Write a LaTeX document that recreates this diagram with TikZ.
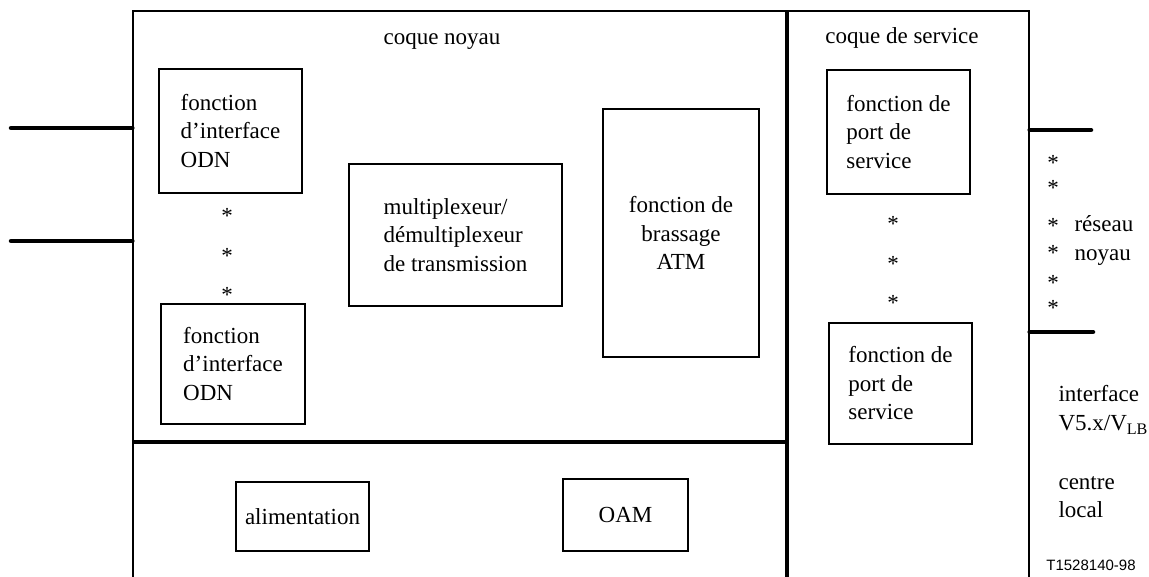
\documentclass[tikz,border=0pt]{standalone}
\usepackage{fontspec}
\setmainfont{Liberation Serif}
\newfontfamily\refsans{Liberation Sans}
\usepackage{tikz}
\usetikzlibrary{positioning}

\begin{document}
\begin{tikzpicture}[x=1pt, y=-1pt,
                      every node/.style = {font=\fontsize{23}{28.5}\selectfont},
                      fbox/.style = {draw, line width=1.2pt, align=left, inner sep=0pt},
                      asterisk/.style = {inner sep=0pt},
                      link/.style = {line width=4.5pt, line cap=round},
                      divider/.style = {line width=4.5pt}]
                      \clip (0,0) rectangle (1149,576);
                      \node[draw, line width=1.3pt, minimum width=896, minimum height=609] (frame) at (581,315.5) {};
                      \draw[divider] (787,11) -- (787,620);
                      \draw[divider] (frame.west |- 0,442) -- (787,442);
                      \node (core) at (442,41) {coque noyau};
                      \node (shell) at (902,38) {coque de service};
                      \node[fbox, minimum width=143, minimum height=124] (odnA) at (230.5,131) {fonction\\d'interface\\ODN};
                      \node[fbox, minimum width=144, minimum height=120] (odnB) at (233,364) {fonction\\d'interface\\ODN};
                      \node[fbox, minimum width=213, minimum height=142] (mux) at (455.5,235) {multiplexeur/\\démultiplexeur\\de transmission};
                      \node[fbox, align=center, minimum width=156, minimum height=248] (atm) at (681,233) {fonction de\\brassage\\ATM};
                      \node[fbox, minimum width=143, minimum height=124] (portA) at (898.5,132) {fonction de\\port de\\service};
                      \node[fbox, minimum width=143, minimum height=121] (portB) at (900.5,383.5) {fonction de\\port de\\service};
                      \node[fbox, minimum width=133, minimum height=69] (alim) at (302.5,516.5) {alimentation};
                      \node[fbox, minimum width=125, minimum height=72] (oam) at (625.5,515) {OAM};
                      \foreach \y [count=\i] in {216,256,295}
                        \node[asterisk] (odnstar\i) at (227,\y) {*};
                      \foreach \y [count=\i] in {224,264,303}
                        \node[asterisk] (portstar\i) at (893,\y) {*};
                      \foreach \y [count=\i] in {163,188,226,253,283,308}
                        \node[asterisk] (netstar\i) at (1053,\y) {*};
                      \node[align=left, anchor=west] (network) at (1071,240.5) {réseau\\noyau};
                      \node[align=left, anchor=west] (iface) at (1055,410) {interface\\V5.x/V\textsubscript{LB}};
                      \node[align=left, anchor=west] (exchange) at (1055,497) {centre\\local};
                      \node[font=\refsans\fontsize{15}{18}\selectfont] (ref) at (1091,565) {T1528140-98};
                      \coordinate (odnlineA) at (11,128);
                      \coordinate (odnlineB) at (11,241);
                      \coordinate (netlineA) at (1091,130);
                      \coordinate (netlineB) at (1093,332);
                      \draw[link] (odnlineA) -- (odnlineA -| frame.west);
                      \draw[link] (odnlineB) -- (odnlineB -| frame.west);
                      \draw[link] (netlineA -| frame.east) -- (netlineA);
                      \draw[link] (netlineB -| frame.east) -- (netlineB);
                    \end{tikzpicture}
\end{document}
